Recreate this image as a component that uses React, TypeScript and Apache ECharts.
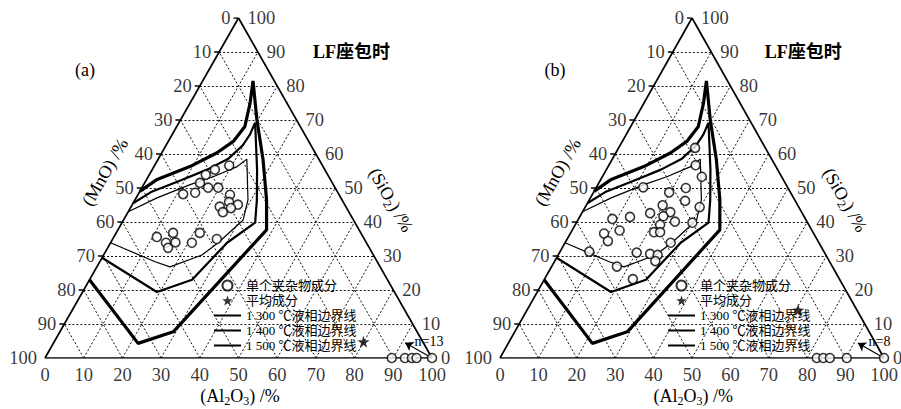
import React, { useEffect, useRef } from "react";
import * as echarts from "echarts";

const SERIF = '"Liberation Serif", "Noto Sans CJK SC", serif';

// axis ticks (percent)
const tickValues = [0, 10, 20, 30, 40, 50, 60, 70, 80, 90, 100];
const gridLevels = [10, 20, 30, 40, 50, 60, 70, 80, 90];

// compositions as [Al2O3, SiO2] in %, MnO = 100 - Al2O3 - SiO2
const liquidus1300 = [[0, 43], [5.4, 47.1], [12, 51], [16.8, 53.3], [21.5, 56.3], [22.9, 58.5], [29.2, 46.5], [30.9, 40.6], [27.8, 33.9], [25.4, 30.3], [18.9, 26.8], [14.3, 28.3], [0, 33.9]];
const liquidus1400 = [[0, 45.5], [3, 48.8], [8.5, 52], [14.2, 55.4], [18, 58.5], [19.8, 62.5], [20.1, 65.7], [19.7, 69.2], [27.1, 55.4], [31.5, 46.5], [34.4, 39.8], [30.1, 33.9], [26.5, 23.0], [19.2, 19.4], [0, 29.5]];
const liquidus1500 = [[0, 49], [2.6, 52.4], [9.3, 56.3], [14.2, 60.3], [16.8, 63.7], [17.6, 68.1], [15.5, 75], [13, 81.5], [19.7, 70.1], [27.2, 58.3], [34, 46.5], [38.4, 37.7], [29.3, 7.7], [21.9, 4.3], [0, 23]];

const inclusionsA = [[19.3, 56.6], [16.2, 55.4], [14.6, 53.9], [14.3, 51.5], [17.1, 50.1], [19.7, 50.1], [14.5, 48.6], [11.6, 48.2], [23.8, 48.0], [24.6, 45.9], [22.9, 44.5], [27.3, 45.1], [24.5, 42.9], [26.0, 44.1], [11.1, 35.6], [14.7, 36.8], [14.3, 33.9], [16.7, 34.0], [15.6, 32.4], [21.0, 33.9], [21.6, 36.8], [26.9, 35.0]];
const aluminaA = [[89.6, 0], [93.0, 0], [94.8, 0], [96.0, 0], [100, 0]];
const averageA = [[79.9, 4.8]];
const arrowTipA = [90.8, 4.5];

const inclusionsB = [[19.9, 61.8], [22.6, 56.7], [25.9, 53.3], [23.4, 50.0], [19.7, 48.7], [12.2, 50.2], [25.1, 46.2], [29.8, 44.4], [19.9, 44.9], [17.8, 42.6], [22.9, 42.9], [13.1, 41.5], [21.7, 41.7], [25.5, 40.1], [22.1, 39.2], [30.2, 39.8], [8.8, 40.9], [12.4, 37.5], [8.8, 36.6], [10.9, 34.4], [21.6, 37.0], [23.2, 37.0], [27.5, 33.9], [7.6, 31.3], [20.1, 31.0], [23.8, 30.6], [25.9, 30.3], [26.2, 28.5], [17.0, 26.9], [23.0, 23.2]];
const aluminaB = [[82.5, 0], [84.2, 0], [85.9, 0], [90.3, 0], [100, 0]];
const averageB = [[70.6, 14.1]];
const arrowTipB = [91.0, 4.4];

const panelTags = ["(a)", "(b)"];
const countLabels = ["n=13", "n=8"];
const title = "LF座包时";
const NAME_INC = "单个夹杂物成分";
const NAME_AVG = "平均成分";
const NAME_1300 = "1 300 ℃液相边界线";
const NAME_1400 = "1 400 ℃液相边界线";
const NAME_1500 = "1 500 ℃液相边界线";

const STAR = "path://M0,-10L2.35,-3.24L9.51,-3.09L3.8,1.24L5.88,8.09L0,4L-5.88,8.09L-3.8,1.24L-9.51,-3.09L-2.35,-3.24Z";

const toXY = (c: number[]) => [c[0] + c[1] / 2, c[1]];

const gridSegments = gridLevels.flatMap((v) => [
  [[0, v], [100 - v, v]],
  [[v, 0], [v, 100 - v]],
  [[100 - v, 0], [0, 100 - v]],
]);
const frameSegments = [
  [[0, 0], [100, 0]],
  [[100, 0], [0, 100]],
  [[0, 100], [0, 0]],
];
const leftTickSegments = tickValues.slice(0, 10).map((m) => [[0, 100 - m], [-1.3, 100 - m]]);

function panelSeries(i: number, inclusions: number[][], alumina: number[][], avg: number[][], tip: number[]) {
  const ax = { xAxisIndex: i, yAxisIndex: i };
  const tickLabel = (data: number[][], position: string, distance: number) => ({
    type: "scatter",
    ...ax,
    silent: true,
    symbolSize: 0,
    itemStyle: { color: "transparent" },
    data,
    z: 6,
    label: {
      show: true,
      position,
      distance,
      formatter: (p: any) => String(p.value[2]),
      fontFamily: SERIF,
      fontSize: 18.5,
      lineHeight: 18,
      color: "#000",
    },
  });
  return [
    {
      type: "lines",
      coordinateSystem: "cartesian2d",
      ...ax,
      silent: true,
      z: 1,
      lineStyle: { color: "#111", width: 1, type: [2, 2], opacity: 1 },
      data: gridSegments.map((s) => ({ coords: s.map(toXY) })),
    },
    {
      type: "lines",
      coordinateSystem: "cartesian2d",
      ...ax,
      silent: true,
      z: 2,
      lineStyle: { color: "#000", width: 1.7, type: "solid", opacity: 1 },
      data: frameSegments.concat(leftTickSegments).map((s) => ({ coords: s.map(toXY) })),
    },
    { type: "line", name: NAME_1300, ...ax, data: liquidus1300.map(toXY), symbol: "none", lineStyle: { color: "#000", width: 1.2 }, itemStyle: { color: "#000" }, z: 3 },
    { type: "line", name: NAME_1400, ...ax, data: liquidus1400.map(toXY), symbol: "none", lineStyle: { color: "#000", width: 2.2 }, itemStyle: { color: "#000" }, z: 3 },
    { type: "line", name: NAME_1500, ...ax, data: liquidus1500.map(toXY), symbol: "none", lineStyle: { color: "#000", width: 3.2 }, itemStyle: { color: "#000" }, z: 3 },
    {
      type: "scatter",
      name: NAME_INC,
      ...ax,
      symbol: "circle",
      symbolSize: 9,
      itemStyle: { color: "#fff", borderColor: "#000", borderWidth: 1.6 },
      data: inclusions.concat(alumina).map(toXY),
      z: 5,
    },
    {
      type: "scatter",
      name: NAME_AVG,
      ...ax,
      symbol: STAR,
      symbolSize: 12,
      itemStyle: { color: "#000" },
      data: avg.map(toXY),
      z: 5,
    },
    {
      type: "lines",
      coordinateSystem: "cartesian2d",
      ...ax,
      silent: true,
      z: 4,
      symbol: ["none", "arrow"],
      symbolSize: 8,
      lineStyle: { color: "#000", width: 1.2, opacity: 1 },
      data: [{ coords: [toXY([100, 0]), toXY(tip)] }],
    },
    tickLabel(tickValues.map((v) => [...toXY([v, 0]), v]), "bottom", 8),
    tickLabel(tickValues.map((m) => [...toXY([0, 100 - m]), m]), "left", 8),
    tickLabel(tickValues.map((s) => [...toXY([100 - s, s]), s]), "right", 9),
  ];
}

const richSub = {
  n: { fontFamily: SERIF, fontSize: 18, lineHeight: 22, color: "#000" },
  s: { fontFamily: SERIF, fontSize: 12, lineHeight: 12, verticalAlign: "bottom", color: "#000" },
};

function txt(x: number, y: number, text: string, extra: any = {}, rotation = 0) {
  return {
    type: "text",
    x,
    y,
    rotation,
    z: 10,
    style: {
      text,
      fontFamily: SERIF,
      fontSize: 18,
      fill: "#000",
      align: "center",
      verticalAlign: "middle",
      ...extra,
    },
  };
}

export default function App() {
  const ref = useRef<HTMLDivElement>(null);
  useEffect(() => {
    if (!ref.current) return;
    const chart = echarts.init(ref.current, undefined, { renderer: "svg" });
    const hideSymbol = { opacity: 0 };
    const legendData = [
      { name: NAME_INC },
      { name: NAME_AVG },
      { name: NAME_1300, itemStyle: hideSymbol },
      { name: NAME_1400, itemStyle: hideSymbol },
      { name: NAME_1500, itemStyle: hideSymbol },
    ];
    const offsets = [0, 455];
    const graphic: any[] = [];
    [0, 1].forEach((i) => {
      const o = offsets[i];
      graphic.push(txt(85 + o * 1.033, 70, panelTags[i]));
      graphic.push(txt(313 + o * 0.993, 52, title, { align: "left", fontWeight: "bold" }));
      graphic.push(txt(105 + o * 0.995, 172, "(MnO) /%", {}, Math.PI / 3));
      graphic.push(
        txt(391 + o * 0.998, 200, "{n|(SiO}{s|2}{n|) /%}", { rich: richSub }, -Math.PI / 3)
      );
      graphic.push(txt(240 + o * 0.996, 396, "{n|(Al}{s|2}{n|O}{s|3}{n|) /%}", { rich: richSub }));
      graphic.push(txt(429 + o * 0.99, 341, countLabels[i], { fontSize: 14 }));
    });
    const option: any = {
      animation: false,
      backgroundColor: "#fff",
      grid: [
        { left: 45, top: 18, width: 387, height: 340 },
        { left: 500, top: 18, width: 384, height: 340 },
      ],
      xAxis: [0, 1].map((i) => ({ type: "value", gridIndex: i, min: 0, max: 100, show: false })),
      yAxis: [0, 1].map((i) => ({ type: "value", gridIndex: i, min: 0, max: 100, show: false })),
      legend: [213, 667].map((left) => ({
        left,
        top: 278,
        orient: "vertical",
        itemWidth: 27,
        itemHeight: 10,
        itemGap: 0,
        padding: 0,
        selectedMode: false,
        data: legendData,
        textStyle: { fontFamily: SERIF, fontSize: 13, color: "#000", lineHeight: 15 },
      })),
      graphic,
      series: [
        ...panelSeries(0, inclusionsA, aluminaA, averageA, arrowTipA),
        ...panelSeries(1, inclusionsB, aluminaB, averageB, arrowTipB),
      ],
    };
    chart.setOption(option);
    return () => chart.dispose();
  }, []);
  return (
    <div
      ref={ref}
      style={{ position: "fixed", left: 0, top: 0, width: 901, height: 409, background: "#fff" }}
    />
  );
}
